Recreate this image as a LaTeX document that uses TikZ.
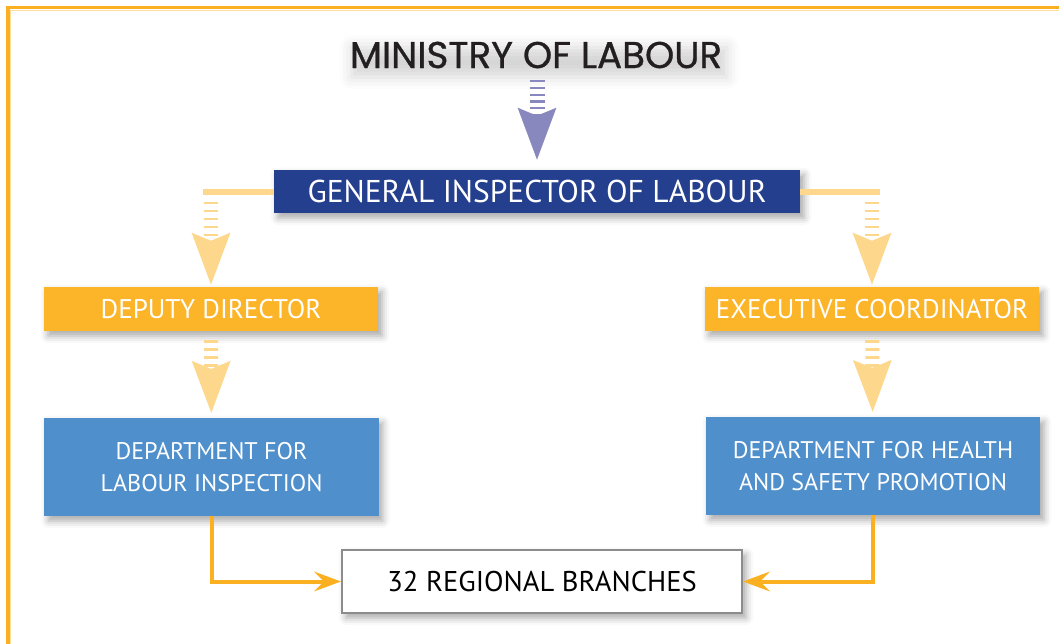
\documentclass[tikz,border=0pt]{standalone}
\usepackage{fontspec}
\setmainfont{PT Sans}
\newfontfamily\titlefont{Poppins}[FakeBold=0.8]
\usepackage{tikz}
\usetikzlibrary{arrows.meta, shadows.blur}

\definecolor{frameorange}{RGB}{251,176,33}
\definecolor{framepale}{RGB}{253,222,160}
\definecolor{navyblue}{RGB}{37,63,143}
\definecolor{postorange}{RGB}{252,180,40}
\definecolor{deptblue}{RGB}{78,143,204}
\definecolor{paleyellow}{RGB}{253,215,140}
\definecolor{ladderviolet}{RGB}{136,136,190}
\definecolor{branchgray}{RGB}{140,140,140}
\definecolor{inkblack}{RGB}{35,31,32}

\begin{document}
\begin{tikzpicture}[x=0.025cm, y=-0.025cm]
\useasboundingbox (0,0) rectangle (1059,644);

\tikzstyle{unit} = [rectangle, text centered, align=center, text=white, inner sep=0pt, blur shadow={shadow xshift=0.1cm, shadow yshift=-0.12cm, shadow blur radius=0.18cm, shadow opacity=35}]
\tikzstyle{title} = [font=\titlefont\fontsize{26.5}{30}\selectfont, text=inkblack, inner sep=0.04cm, blur shadow={shadow xshift=0.08cm, shadow yshift=-0.18cm, shadow blur radius=0.3cm, shadow opacity=16}]
\tikzstyle{head} = [unit, fill=navyblue, minimum width=13.15cm, minimum height=1.075cm, font=\fontsize{22.4}{27}\selectfont]
\tikzstyle{post} = [unit, fill=postorange, minimum width=8.35cm, minimum height=1.1cm, font=\fontsize{19.2}{23}\selectfont]
\tikzstyle{dept} = [unit, fill=deptblue, minimum width=8.35cm, minimum height=2.45cm, font=\fontsize{17.1}{22.8}\selectfont]
\tikzstyle{branch} = [unit, fill=white, draw=branchgray, line width=0.05cm, text=black, minimum width=10cm, minimum height=1.575cm, font=\fontsize{20.3}{24}\selectfont]
\tikzstyle{ladder} = [-{Stealth[length=1.3cm, width=0.97cm, inset=0.2cm, line width=0pt]}, line width=0.35cm, dash pattern=on 0.0675cm off 0.1325cm]
\tikzstyle{paleline} = [draw=paleyellow, line width=0.15cm]
\tikzstyle{feed} = [draw=frameorange, line width=0.1cm, -{Stealth[length=0.675cm, width=0.5cm, inset=0.25cm, line width=0pt]}]

% frame
\draw [line width=0.075cm, draw=frameorange] (8,660) -- (8,8) -- (1070,8);
\draw [line width=0.03cm, draw=framepale] (10.5,660) -- (10.5,10.5) -- (1070,10.5);

\node (ministry) [title] at (536,55) {MINISTRY OF LABOUR};
\node (gil) [head] at (537,191.5) {GENERAL INSPECTOR OF LABOUR};
\node (deputy) [post] at (211,309) {DEPUTY DIRECTOR};
\node (exec) [post] at (872,309) {EXECUTIVE COORDINATOR};
\node (labour) [dept] at (211.5,467) {DEPARTMENT FOR\\LABOUR INSPECTION};
\node (health) [dept] at (873,466) {DEPARTMENT FOR HEALTH\\AND SAFETY PROMOTION};
\node (branches) [branch] at (542,581.5) {32 REGIONAL BRANCHES};

\coordinate (lc) at (gil.west -| deputy);
\coordinate (rc) at (gil.east -| exec);

\draw [ladder, draw=ladderviolet, line width=0.375cm, dash pattern=on 0.058cm off 0.11cm, shorten <=0.25cm, shorten >=0.25cm] (ministry.south -| gil) -- (gil);
\draw [paleline] (gil.west) -- ([xshift=-0.2cm]lc);
\draw [paleline] (gil.east) -- ([xshift=0.2cm]rc);
\draw [ladder, draw=paleyellow, shorten <=0.25cm, shorten >=0.05cm] (lc) -- (deputy);
\draw [ladder, draw=paleyellow, shorten <=0.25cm, shorten >=0.05cm] (rc) -- (exec);
\draw [ladder, draw=paleyellow, shorten <=0.22cm, shorten >=0.12cm] (deputy) -- (labour);
\draw [ladder, draw=paleyellow, shorten <=0.22cm, shorten >=0.12cm] (exec) -- (health);
\draw [feed] (labour) |- (branches);
\draw [feed] (health) |- (branches);
\end{tikzpicture}
\end{document}
